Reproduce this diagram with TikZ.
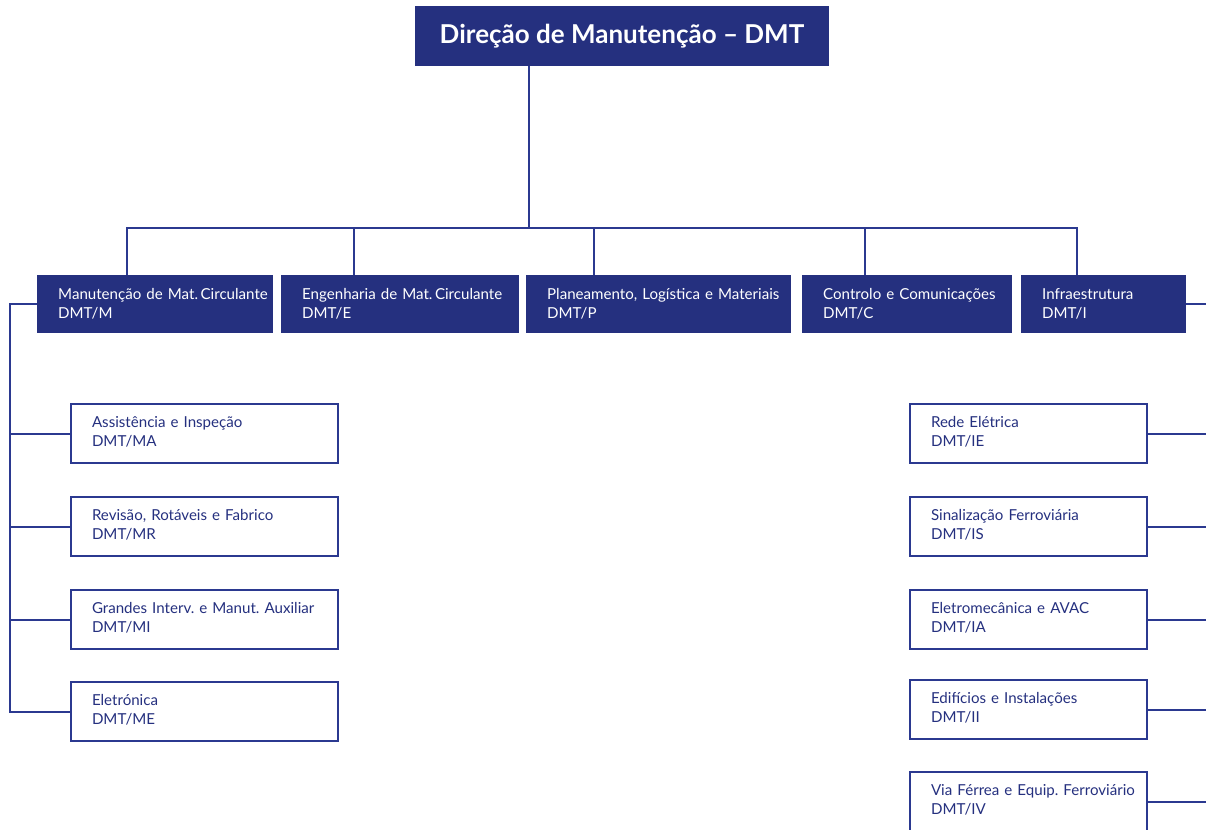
\documentclass[tikz,border=0pt]{standalone}
\usepackage{fontspec}
\setmainfont{Lato}
\definecolor{navy}{HTML}{25307F}
\definecolor{navyline}{HTML}{2B3990}
\newcommand{\twoline}[2]{\mbox{#1}\\\mbox{#2}}
\newcommand{\twolineup}[2]{\mbox{#1}\\\mbox{#2}\par\vspace*{4pt}}
\newcommand{\orgfont}{\fontsize{15.1}{19}\selectfont\spaceskip=0.17em plus 0.05em\relax}
\begin{document}
\frenchspacing
\begin{tikzpicture}[x=1pt,y=-1pt,
  topbox/.style={fill=navy, draw=none, text=white, minimum width=414pt, minimum height=60pt, inner sep=0pt,
    font=\bfseries\fontsize{26}{30}\selectfont},
  midbox/.style={fill=navy, draw=none, text=white, anchor=north west, minimum height=58pt, inner xsep=21pt,
    align=left, font=\orgfont},
  subbox/.style={fill=white, draw=navyline, line width=2pt, text=navy, anchor=north west, minimum height=59pt,
    inner xsep=21pt, align=left, font=\orgfont},
  conn/.style={draw=navyline, line width=2pt},
]
\fill[white] (0,0) rectangle (1206,829);
\useasboundingbox (0,0) rectangle (1206,829);

\node[topbox] (top) at (622,36) {Direção de Manutenção – DMT};

\node[midbox, text width=194pt] (b1) at (37,275) {\twoline{Manutenção de Mat.\,Circulante}{DMT/M}};
\node[midbox, text width=196pt] (b2) at (281,275) {\twoline{Engenharia de Mat.\,Circulante}{DMT/E}};
\node[midbox, text width=223pt] (b3) at (526,275) {\twoline{Planeamento, Logística e Materiais}{DMT/P}};
\node[midbox, text width=168pt] (b4) at (802,275) {\twoline{Controlo e Comunicações}{DMT/C}};
\node[midbox, text width=123pt] (b5) at (1021,275) {\twoline{Infraestrutura}{DMT/I}};

\node[subbox, text width=225pt] (m1) at (70,403) {\twolineup{Assistência e Inspeção}{DMT/MA}};
\node[subbox, text width=225pt] (m2) at (70,496) {\twolineup{Revisão, Rotáveis e Fabrico}{DMT/MR}};
\node[subbox, text width=225pt] (m3) at (70,589) {\twolineup{Grandes Interv. e Manut. Auxiliar}{DMT/MI}};
\node[subbox, text width=225pt] (m4) at (70,681) {\twolineup{Eletrónica}{DMT/ME}};

\node[subbox, text width=195pt] (i1) at (909,403) {\twolineup{Rede Elétrica}{DMT/IE}};
\node[subbox, text width=195pt] (i2) at (909,496) {\twolineup{Sinalização Ferroviária}{DMT/IS}};
\node[subbox, text width=195pt] (i3) at (909,589) {\twolineup{Eletromecânica e AVAC}{DMT/IA}};
\node[subbox, text width=195pt] (i4) at (909,679) {\twolineup{Edifícios e Instalações}{DMT/II}};
\node[subbox, text width=195pt] (i5) at (909,771) {\twolineup{Via Férrea e Equip. Ferroviário}{DMT/IV}};

\coordinate (t0) at ([xshift=-93pt]top.south);
\coordinate (bus) at (529,228);
\coordinate (lx) at (10,0);
\coordinate (rx) at (1210,0);
\coordinate (d1) at ([xshift=90pt]b1.north west);
\coordinate (d2) at ([xshift=73pt]b2.north west);
\coordinate (d3) at ([xshift=68pt]b3.north west);
\coordinate (d4) at ([xshift=63pt]b4.north west);
\coordinate (d5) at ([xshift=56pt]b5.north west);

\draw[conn] (t0) -- (t0 |- bus);
\draw[conn] (d1) |- (bus) -| (d5);
\draw[conn] (d2) -- (d2 |- bus);
\draw[conn] (d3) -- (d3 |- bus);
\draw[conn] (d4) -- (d4 |- bus);

\draw[conn] (b1.west) -| (m4.west -| lx) -- (m4.west);
\draw[conn] (m1.west) -- (m1.west -| lx);
\draw[conn] (m2.west) -- (m2.west -| lx);
\draw[conn] (m3.west) -- (m3.west -| lx);

\draw[conn] (b5.east) -- (b5.east -| rx);
\draw[conn] (i1.east) -- (i1.east -| rx);
\draw[conn] (i2.east) -- (i2.east -| rx);
\draw[conn] (i3.east) -- (i3.east -| rx);
\draw[conn] (i4.east) -- (i4.east -| rx);
\draw[conn] (i5.east) -- (i5.east -| rx);
\end{tikzpicture}
\end{document}
